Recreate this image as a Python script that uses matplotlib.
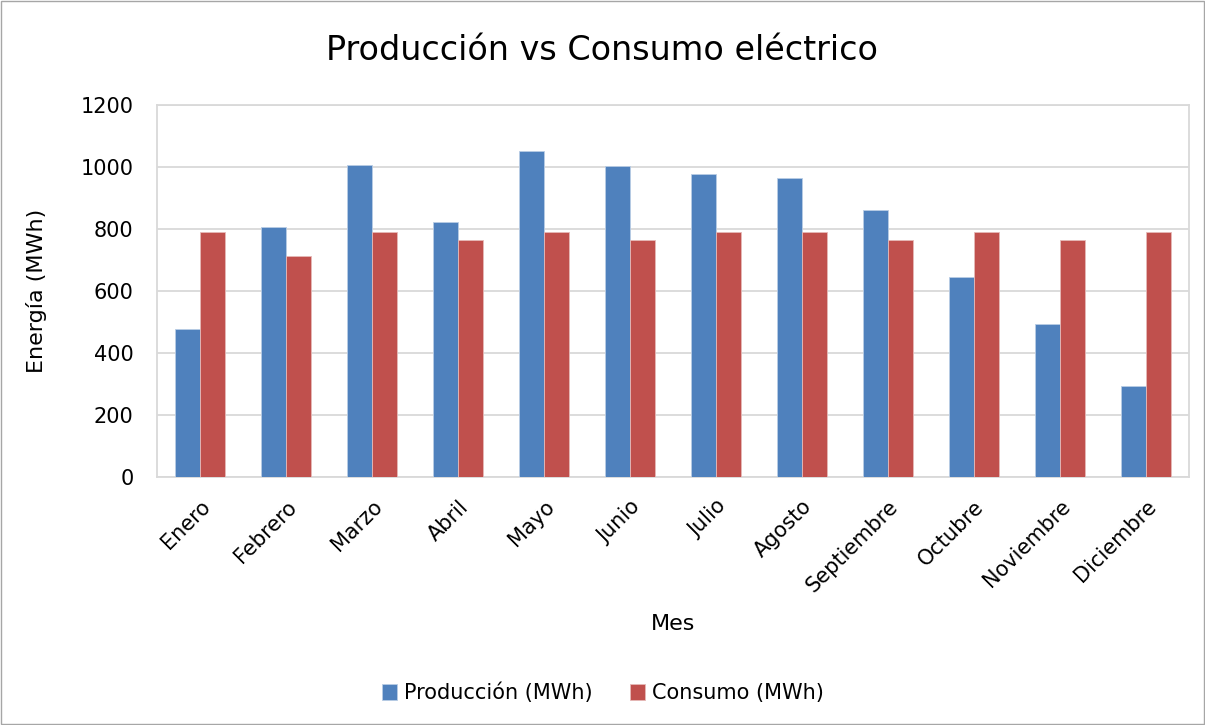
import matplotlib.pyplot as plt
import numpy as np

# Datos
meses = ["Enero", "Febrero", "Marzo", "Abril", "Mayo", "Junio", "Julio",
         "Agosto", "Septiembre", "Octubre", "Noviembre", "Diciembre"]
produccion = [477, 805, 1006, 821, 1053, 1004, 977, 963, 860, 644, 492, 292]
consumo = [789, 713, 789, 764, 789, 764, 789, 789, 764, 789, 764, 789]

plt.rcParams['font.family'] = ['DejaVu Sans']

fig = plt.figure(figsize=(12.05, 7.25), dpi=100)
ax = fig.add_axes([157 / 1205, 1 - 477 / 725, 1032 / 1205, 372 / 725])

x = np.arange(len(meses))
w = 0.285
ax.bar(x - w / 2, produccion, w, color="#4F81BD", edgecolor="#B9CDE5", linewidth=0.6,
       label="Producción (MWh)", zorder=3)
ax.bar(x + w / 2, consumo, w, color="#C0504D", edgecolor="#E6B9B8", linewidth=0.6,
       label="Consumo (MWh)", zorder=3)

ax.set_xlim(-0.5, len(meses) - 0.5)
ax.set_ylim(0, 1200)
ax.set_yticks(range(0, 1201, 200))
ax.yaxis.grid(True, color="#D9D9D9", linewidth=1.3, zorder=0)
ax.set_xticks(x)
ax.set_xticklabels(meses, rotation=45, ha="right", rotation_mode="anchor", fontsize=15)
ax.tick_params(axis="y", labelsize=15, length=0, pad=17)
ax.tick_params(axis="x", length=0, pad=14)

for s in ["top", "left", "bottom", "right"]:
    ax.spines[s].set_color("#D9D9D9")
    ax.spines[s].set_linewidth(1.3)

ax.set_ylabel("Energía (MWh)", fontsize=16)
ax.yaxis.set_label_coords(-0.117, 0.5)
ax.set_xlabel("Mes", fontsize=16)
ax.xaxis.set_label_coords(0.5, -0.395)
ax.xaxis.label.set_va("center")
ax.yaxis.label.set_va("center")
fig.text(0.5, 1 - 50 / 725, "Producción vs Consumo eléctrico", fontsize=24,
         ha="center", va="center")

fig.legend(loc="center", ncol=2, frameon=False, fontsize=15,
           bbox_to_anchor=(0.5, 1 - 693 / 725), handlelength=0.75, handleheight=0.75,
           handletextpad=0.3, columnspacing=1.8)

# borde del grafico
fig.patches.append(plt.Rectangle((0.001, 0.001), 0.998, 0.998, transform=fig.transFigure,
                                 fill=False, edgecolor="#A6A6A6", linewidth=1.0))

fig.savefig("out.png", dpi=100)
